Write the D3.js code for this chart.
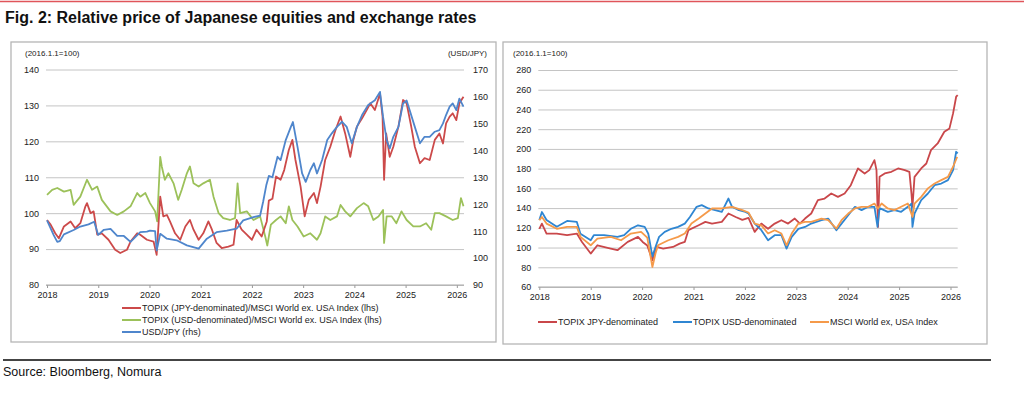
<!DOCTYPE html>
<html lang="en">
<head>
  <meta charset="UTF-8" />
  <title>Fig. 2 - Relative price of Japanese equities</title>
  <script src="https://d3js.org/d3.v7.min.js"></script>
  <style>
    html, body {
      margin: 0;
      padding: 0;
      background: #fff;
      font-family: 'Liberation Sans', Arial, sans-serif;
    }
    svg { display: block; }
    .tick text { font-family: 'Liberation Sans', Arial, sans-serif; }
  </style>
</head>
<body>
  <svg width="1024" height="396"></svg>

  <script>
    // ---- data (decimal year, value) ----
    const years = [2018, 2019, 2020, 2021, 2022, 2023, 2024, 2025, 2026];
    const leftTicks = [80, 90, 100, 110, 120, 130, 140];
    const fxTicks = [90, 100, 110, 120, 130, 140, 150, 160, 170];
    const rightTicks = [60, 80, 100, 120, 140, 160, 180, 200, 220, 240, 260, 280];

    // TOPIX (JPY)/MSCI World ex USA, lhs
    const relJpy = [
      [2018.00,98.1],[2018.07,96.8],[2018.16,94.4],[2018.23,93],[2018.33,96.3],[2018.46,97.7],[2018.55,95.8],
      [2018.65,97.2],[2018.75,101.9],[2018.78,102.8],[2018.85,100],[2018.91,100.5],[2018.98,94],[2019.07,94.4],
      [2019.20,92.6],[2019.33,89.8],[2019.43,88.9],[2019.56,89.8],[2019.63,92.1],[2019.76,94.4],[2019.82,94],
      [2019.95,92.6],[2020.08,92.1],[2020.14,88.4],[2020.21,104.6],[2020.27,99.1],[2020.34,99.5],[2020.40,97.7],
      [2020.50,94.4],[2020.60,92.6],[2020.70,96.3],[2020.79,98.1],[2020.86,95.4],[2020.96,92.6],[2021.05,94.4],
      [2021.15,97.7],[2021.22,95.4],[2021.31,91.7],[2021.41,90.3],[2021.54,90.7],[2021.64,91.2],[2021.70,98.1],
      [2021.80,95.4],[2021.90,94],[2022.00,92.6],[2022.09,95.4],[2022.19,93.5],[2022.29,97.7],[2022.33,103.5],
      [2022.40,104],[2022.47,110.2],[2022.56,109.3],[2022.63,112],[2022.72,117.6],[2022.79,120.4],[2022.85,114.8],
      [2022.95,107.4],[2023.03,99.1],[2023.11,103.7],[2023.21,105.6],[2023.27,102.8],[2023.34,107.4],[2023.43,114.8],
      [2023.53,118.5],[2023.63,123.1],[2023.73,126.9],[2023.82,122.2],[2023.92,115.7],[2023.98,120.4],[2024.05,124.1],
      [2024.15,126.4],[2024.24,128.7],[2024.31,130.6],[2024.40,128.7],[2024.50,133.3],[2024.55,126.9],[2024.58,109.3],
      [2024.62,122.2],[2024.69,115.7],[2024.76,118.5],[2024.86,124.1],[2024.95,131.5],[2025.02,130.6],[2025.11,124.1],
      [2025.18,118.5],[2025.28,113.9],[2025.37,115.3],[2025.47,114.8],[2025.57,120.4],[2025.66,122.2],[2025.73,119.4],
      [2025.79,125],[2025.86,126.9],[2025.92,127.8],[2025.99,125.9],[2026.05,130.6],[2026.13,132.4]
    ];

    // TOPIX (USD)/MSCI World ex USA, lhs
    const relUsd = [
      [2018.00,105.1],[2018.10,106.5],[2018.20,107],[2018.33,106],[2018.46,106.5],[2018.52,102.3],[2018.65,104.6],
      [2018.78,109.3],[2018.88,106.5],[2018.98,107.4],[2019.07,103.7],[2019.24,100.5],[2019.37,99.5],[2019.50,100.5],
      [2019.63,101.9],[2019.76,105.6],[2019.82,104.6],[2019.92,105.6],[2020.01,102.8],[2020.11,100.5],[2020.15,97.7],
      [2020.21,115.7],[2020.24,113],[2020.30,109.3],[2020.37,111.1],[2020.47,108.3],[2020.56,103.7],[2020.63,106.5],
      [2020.73,111.1],[2020.79,113],[2020.86,108.3],[2020.96,107.4],[2021.05,108.3],[2021.18,109.3],[2021.25,104.6],
      [2021.35,100],[2021.44,98.6],[2021.57,98.1],[2021.67,98.6],[2021.72,108.3],[2021.77,100],[2021.90,100.5],
      [2022.03,98.1],[2022.16,99.1],[2022.26,93.5],[2022.30,91],[2022.37,96.8],[2022.47,98.1],[2022.56,99.1],
      [2022.66,97.2],[2022.72,101.9],[2022.79,98.1],[2022.89,96.3],[2023.01,93.5],[2023.14,94.4],[2023.27,92.6],
      [2023.34,94.4],[2023.43,99.1],[2023.53,98.1],[2023.66,99.1],[2023.73,102.3],[2023.82,100.5],[2023.92,99.1],
      [2024.05,101.4],[2024.18,102.8],[2024.27,101.9],[2024.37,98.1],[2024.47,99.1],[2024.56,100.9],[2024.58,91.7],
      [2024.63,99.1],[2024.73,99.1],[2024.82,97.2],[2024.92,100.5],[2025.02,98.1],[2025.15,96.3],[2025.28,96.3],
      [2025.40,97.2],[2025.50,95.4],[2025.57,100],[2025.66,100],[2025.79,99.1],[2025.92,98.1],[2026.02,98.6],
      [2026.08,104.2],[2026.13,101.9]
    ];

    // USD/JPY, rhs
    const usdJpy = [
      [2018.00,114],[2018.13,108.5],[2018.20,106],[2018.25,106.3],[2018.33,108.8],[2018.52,110.4],[2018.65,111.7],
      [2018.81,112.5],[2018.92,113.5],[2019.00,108.6],[2019.11,110.5],[2019.24,110.8],[2019.37,108.2],[2019.50,108.2],
      [2019.63,106],[2019.82,109.6],[2019.95,109.8],[2020.01,110.2],[2020.11,110],[2020.14,102.8],[2020.21,109],
      [2020.34,107.2],[2020.53,106.6],[2020.73,104.7],[2020.96,103.5],[2021.12,107.2],[2021.31,109.6],[2021.51,110.2],
      [2021.70,110.9],[2021.83,114],[2022.03,115.2],[2022.16,115.8],[2022.22,121],[2022.28,127],[2022.33,130.5],
      [2022.40,130],[2022.50,137.6],[2022.56,136.4],[2022.66,143.8],[2022.76,148.7],[2022.80,150.5],[2022.89,141.3],
      [2022.98,131.4],[2023.05,128.3],[2023.14,132.7],[2023.21,135.2],[2023.27,131.4],[2023.37,136.4],[2023.47,143.8],
      [2023.56,146.3],[2023.66,148.7],[2023.76,150.6],[2023.85,148.7],[2023.95,142.6],[2024.05,148.7],[2024.15,153.1],
      [2024.27,156.8],[2024.40,158.6],[2024.50,161.7],[2024.56,152.4],[2024.63,143.8],[2024.69,140.7],[2024.76,145],
      [2024.86,148.7],[2024.95,157.4],[2025.02,158.5],[2025.08,154.9],[2025.18,148.7],[2025.28,142.6],[2025.37,145],
      [2025.47,145],[2025.57,146.9],[2025.66,147.5],[2025.73,150],[2025.79,153.1],[2025.86,156.2],[2025.92,157.4],
      [2025.99,154.9],[2026.05,159.2],[2026.13,156.2]
    ];

    // right chart, 2016.1.1 = 100
    const topixJpy = [
      [2018.00,119],[2018.05,124.3],[2018.14,114.2],[2018.34,114.2],[2018.54,112.5],[2018.73,114.2],[2018.83,105.7],
      [2019.00,93.9],[2019.13,102.3],[2019.39,98.9],[2019.52,97.3],[2019.72,105.7],[2019.92,110.8],[2020.01,105.7],
      [2020.10,102],[2020.20,87.1],[2020.28,100.6],[2020.41,98.9],[2020.60,100.6],[2020.73,104],[2020.83,105.7],
      [2020.90,117.6],[2021.10,122.6],[2021.23,126],[2021.36,124.3],[2021.55,126],[2021.68,134.5],[2021.82,131],
      [2021.95,128],[2022.07,130],[2022.19,115.9],[2022.32,124.3],[2022.45,119],[2022.58,124.3],[2022.71,127.7],
      [2022.84,124.3],[2022.97,129.4],[2023.07,124.3],[2023.17,129.4],[2023.29,134.5],[2023.42,148],[2023.55,149.7],
      [2023.68,154.8],[2023.81,151.4],[2023.94,154.8],[2024.06,163.2],[2024.20,180.2],[2024.33,175.1],[2024.42,178.5],
      [2024.52,188.6],[2024.56,178.5],[2024.59,120.9],[2024.62,171.7],[2024.72,175.1],[2024.85,176.8],[2024.98,180.2],
      [2025.11,178.5],[2025.20,176.8],[2025.24,154.8],[2025.26,141.3],[2025.30,171.7],[2025.43,180.2],[2025.53,185.2],
      [2025.62,198.8],[2025.75,205.5],[2025.88,217.4],[2025.98,220.8],[2026.05,236],[2026.11,252.9],[2026.14,254.6]
    ];

    const topixUsd = [
      [2018.00,128],[2018.05,136],[2018.14,128],[2018.34,121],[2018.54,127],[2018.73,126],[2018.80,114],
      [2019.00,107.4],[2019.06,112.5],[2019.26,112.5],[2019.52,110.8],[2019.65,112.5],[2019.78,119],[2019.92,122.6],
      [2020.05,121],[2020.12,114],[2020.20,91],[2020.26,100.6],[2020.33,110.8],[2020.44,115.9],[2020.57,119],
      [2020.70,121],[2020.83,124.3],[2020.93,131],[2021.06,141.3],[2021.16,143],[2021.29,139.6],[2021.42,137.9],
      [2021.55,136.2],[2021.68,149.7],[2021.75,141.3],[2021.88,137.9],[2022.01,136.2],[2022.07,134.5],[2022.19,124.3],
      [2022.32,117.6],[2022.45,107.4],[2022.58,112.5],[2022.71,112.5],[2022.81,98.9],[2022.91,110.8],[2023.04,119],
      [2023.17,120.9],[2023.29,124.3],[2023.49,127.7],[2023.62,129.4],[2023.78,117.6],[2023.88,124.3],[2024.01,132.8],
      [2024.14,141.3],[2024.27,137.9],[2024.40,141.3],[2024.52,141.3],[2024.58,120.9],[2024.62,140],[2024.78,136.2],
      [2024.91,137.9],[2025.04,136.2],[2025.17,141.3],[2025.24,144.6],[2025.26,120.9],[2025.30,134.5],[2025.43,148],
      [2025.56,154.8],[2025.69,163.2],[2025.82,164.9],[2025.95,168.3],[2026.05,178.5],[2026.11,197.1],[2026.14,195.4]
    ];

    const msciExUs = [
      [2018.00,127.7],[2018.05,131],[2018.14,124.3],[2018.34,119],[2018.54,121],[2018.73,121],[2018.80,110.8],
      [2019.00,102.3],[2019.13,109.1],[2019.39,110.8],[2019.59,107.4],[2019.78,114.2],[2019.98,115.9],[2020.10,110],
      [2020.20,80.3],[2020.26,93.9],[2020.31,102.3],[2020.51,107.4],[2020.70,110.8],[2020.83,114.2],[2020.96,124.3],
      [2021.10,129.4],[2021.23,134.5],[2021.36,139.6],[2021.55,139.6],[2021.75,141.3],[2021.95,137.9],[2022.07,135.5],
      [2022.19,124.3],[2022.32,122.6],[2022.45,114.2],[2022.58,117.6],[2022.71,114.2],[2022.81,102.3],[2022.91,114.2],
      [2023.04,124.3],[2023.17,126],[2023.29,126],[2023.49,129.4],[2023.62,127.7],[2023.78,119.3],[2023.88,127.7],
      [2024.01,134.5],[2024.14,139.6],[2024.27,141.3],[2024.40,141.3],[2024.52,144.6],[2024.59,139.6],[2024.66,144.6],
      [2024.78,139.6],[2024.91,137.9],[2025.04,141.3],[2025.17,144.6],[2025.26,131],[2025.30,144.6],[2025.43,151.4],
      [2025.56,160],[2025.69,164.9],[2025.82,168.3],[2025.95,171.7],[2026.05,181.9],[2026.13,192]
    ];

    const svg = d3.select("svg");
    const FONT = "'Liberation Sans', Arial, sans-serif";
    const gridColor = "#c4c4c4";

    // header / footer
    svg.append("line").attr("x1", 0).attr("x2", 1024).attr("y1", 1.5).attr("y2", 1.5)
      .attr("stroke", "#e0555a").attr("stroke-width", 1.5);
    svg.append("text").attr("x", 5).attr("y", 23)
      .style("font", `bold 16px ${FONT}`).attr("fill", "#111")
      .text("Fig. 2: Relative price of Japanese equities and exchange rates");
    svg.append("line").attr("x1", 3).attr("x2", 991).attr("y1", 360).attr("y2", 360)
      .attr("stroke", "#444").attr("stroke-width", 2);
    svg.append("text").attr("x", 3).attr("y", 376)
      .style("font", `12.5px ${FONT}`).attr("fill", "#111")
      .text("Source: Bloomberg, Nomura");

    function panelBox(x, y, w, h) {
      svg.append("rect").attr("x", x).attr("y", y).attr("width", w).attr("height", h)
        .attr("fill", "#fff").attr("stroke", "#b5b5b5").attr("stroke-width", 1.3);
    }

    function styleAxis(g) {
      g.select(".domain").remove();
      g.selectAll("text").style("font-size", "9px").attr("fill", "#222");
    }

    function drawChart(cfg) {
      const x = d3.scaleLinear().domain([2017.98, 2026.14]).range([cfg.x0, cfg.x1]);
      const y = d3.scaleLinear().domain(cfg.yDomain).range([cfg.yb, cfg.yt]);

      // gridlines + left labels
      svg.append("g").attr("transform", `translate(${cfg.x0},0)`)
        .call(d3.axisLeft(y).tickValues(cfg.yTicks).tickSize(-(cfg.x1 - cfg.x0)).tickPadding(7))
        .call(styleAxis)
        .call(g => g.selectAll("line").attr("stroke", gridColor).attr("stroke-width", 1));

      // x axis
      svg.append("g").attr("transform", `translate(0,${cfg.yb})`)
        .call(d3.axisBottom(x).tickValues(years).tickFormat(d3.format("d")).tickSize(3).tickPadding(4))
        .call(styleAxis)
        .call(g => g.selectAll("line").attr("stroke", "#999"));
      svg.append("line").attr("x1", cfg.x0).attr("x2", cfg.x1)
        .attr("y1", cfg.yb).attr("y2", cfg.yb).attr("stroke", "#a8a8a8");

      let y2 = null;
      if (cfg.y2Domain) {
        y2 = d3.scaleLinear().domain(cfg.y2Domain).range([cfg.yb, cfg.yt]);
        svg.append("g").attr("transform", `translate(${cfg.x1},0)`)
          .call(d3.axisRight(y2).tickValues(cfg.y2Ticks).tickSize(0).tickPadding(9))
          .call(styleAxis);
      }

      const line = sc => d3.line().x(d => x(d[0])).y(d => sc(d[1]));
      cfg.series.forEach(s => {
        svg.append("path").datum(s.data)
          .attr("fill", "none").attr("stroke", s.color).attr("stroke-width", 1.8)
          .attr("stroke-linejoin", "round")
          .attr("d", line(s.rhs ? y2 : y));
      });
    }

    // ---- left panel ----
    panelBox(11, 42, 485, 300);
    svg.append("text").attr("x", 25).attr("y", 56).style("font", `8px ${FONT}`).attr("fill", "#222")
      .text("(2016.1.1=100)");
    svg.append("text").attr("x", 487).attr("y", 56).attr("text-anchor", "end")
      .style("font", `8px ${FONT}`).attr("fill", "#222").text("(USD/JPY)");

    const leftSeries = [
      { name: "TOPIX (JPY-denominated)/MSCI World ex. USA Index (lhs)", data: relJpy, color: "#cc4a4a" },
      { name: "TOPIX (USD-denominated)/MSCI World ex. USA Index (lhs)", data: relUsd, color: "#9cc15a" },
      { name: "USD/JPY (rhs)", data: usdJpy, color: "#4f86cc", rhs: true }
    ];
    drawChart({
      x0: 46, x1: 464, yt: 69.5, yb: 285,
      yDomain: [80, 140], yTicks: leftTicks,
      y2Domain: [90, 170], y2Ticks: fxTicks,
      series: [leftSeries[1], leftSeries[0], leftSeries[2]]
    });

    leftSeries.forEach((s, i) => {
      const cy = 308 + i * 12;
      svg.append("line").attr("x1", 122).attr("x2", 141).attr("y1", cy).attr("y2", cy)
        .attr("stroke", s.color).attr("stroke-width", 2);
      svg.append("text").attr("x", 142).attr("y", cy + 3.2)
        .style("font", `9px ${FONT}`).attr("fill", "#222").text(s.name);
    });

    // ---- right panel ----
    panelBox(503, 42, 484, 302);
    svg.append("text").attr("x", 513).attr("y", 56).style("font", `8px ${FONT}`).attr("fill", "#222")
      .text("(2016.1.1=100)");

    const rightSeries = [
      { name: "TOPIX JPY-denominated", data: topixJpy, color: "#c9474a", lx: 538 },
      { name: "TOPIX USD-denominated", data: topixUsd, color: "#2f86d2", lx: 673 },
      { name: "MSCI World ex, USA Index", data: msciExUs, color: "#f59a4a", lx: 810 }
    ];
    drawChart({
      x0: 538.3, x1: 957.7, yt: 70, yb: 287,
      yDomain: [60, 280], yTicks: rightTicks,
      series: rightSeries
    });

    rightSeries.forEach(s => {
      svg.append("line").attr("x1", s.lx).attr("x2", s.lx + 19).attr("y1", 322).attr("y2", 322)
        .attr("stroke", s.color).attr("stroke-width", 2);
      svg.append("text").attr("x", s.lx + 20).attr("y", 325.2)
        .style("font", `9px ${FONT}`).attr("fill", "#222").text(s.name);
    });
  </script>
</body>
</html>
